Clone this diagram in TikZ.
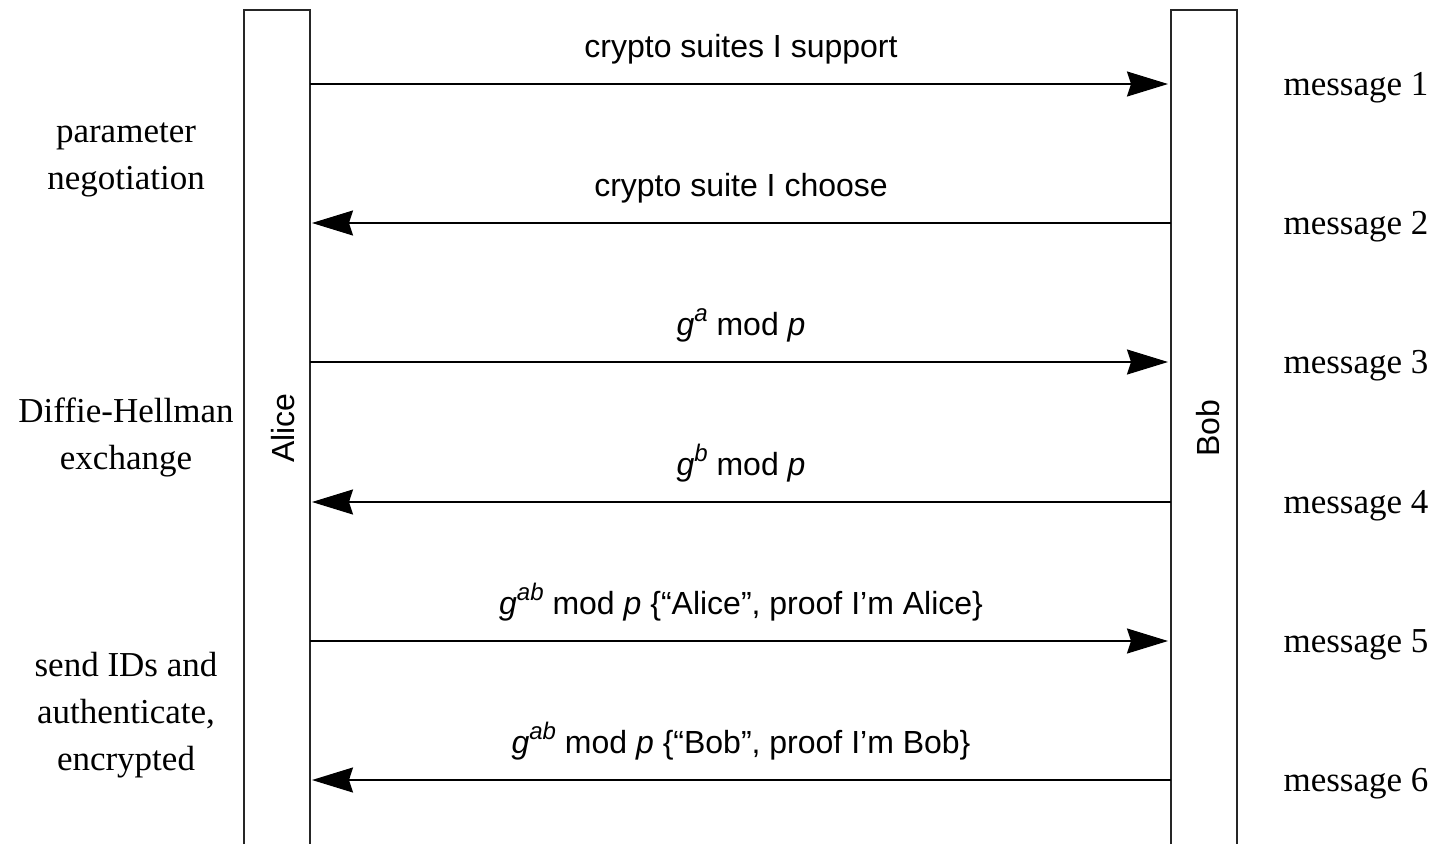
\documentclass[tikz,border=0pt]{standalone}
\usepackage{fontspec}
\setmainfont{Liberation Serif}
\setsansfont{Liberation Sans}
\usetikzlibrary{arrows.meta}
\newcommand{\supit}[1]{\raisebox{0.42em}{\fontsize{24}{24}\selectfont\textit{#1}}}
\begin{document}
\begin{tikzpicture}[x=1pt,y=-1pt,
  lifeline/.style={draw=none,minimum width=66pt,minimum height=834pt,inner sep=0pt,outer sep=0pt},
  boxline/.style={draw=black!85,line width=2.4pt},
  msgarrow/.style={draw=black,line width=1.8pt,-{Stealth[length=41pt,width=25pt,inset=4pt]}},
  msglabel/.style={font=\sffamily\fontsize{32}{38}\selectfont,anchor=base,inner sep=0pt},
  msgnum/.style={font=\rmfamily\fontsize{35}{42}\selectfont,anchor=base,inner sep=0pt},
  phase/.style={font=\rmfamily\fontsize{35}{47}\selectfont,align=center,inner sep=0pt},
  actor/.style={font=\sffamily\fontsize{32}{38}\selectfont,rotate=90,inner sep=0pt}]
\useasboundingbox (0,0) rectangle (1438,844);
% lifelines
\node[lifeline] (alice) at (277,427) {};
\node[lifeline] (bob) at (1204,427) {};
\draw[boxline] (alice.south west) -- (alice.north west) -- (alice.north east) -- (alice.south east);
\draw[boxline] (bob.south west) -- (bob.north west) -- (bob.north east) -- (bob.south east);
\node[actor] (alicename) at (283,428) {Alice};
\node[actor] (bobname) at (1208,428) {Bob};
% message anchors
\foreach \i/\y in {1/84,2/223,3/362,4/502,5/641,6/780}{
  \coordinate (a\i) at (alice.east |- 0,\y);
  \coordinate (b\i) at ([xshift=-3pt]bob.west |- 0,\y);
  \coordinate (bb\i) at (bob.west |- 0,\y);
  \coordinate (aa\i) at ([xshift=2pt]alice.east |- 0,\y);
  \node[msgnum] (m\i) at (1356,\y+11) {message \i};
}
\draw[msgarrow] (a1) -- (b1);
\draw[msgarrow] (bb2) -- (aa2);
\draw[msgarrow] (a3) -- (b3);
\draw[msgarrow] (bb4) -- (aa4);
\draw[msgarrow] (a5) -- (b5);
\draw[msgarrow] (bb6) -- (aa6);
% labels
\node[msglabel] (l1) at (741,57) {crypto suites I support};
\node[msglabel] (l2) at (741,196) {crypto suite I choose};
\node[msglabel] (l3) at (741,335) {\textit{g}\supit{a} mod \textit{p}};
\node[msglabel] (l4) at (741,475) {\textit{g}\supit{b} mod \textit{p}};
\node[msglabel] (l5) at (741,614) {\textit{g}\supit{ab} mod \textit{p} \{“Alice”, proof I’m Alice\}};
\node[msglabel] (l6) at (741,753) {\textit{g}\supit{ab} mod \textit{p} \{“Bob”, proof I’m Bob\}};
% phases
\node[phase] (p1) at (126,160) {parameter\\negotiation};
\node[phase] (p2) at (126,437) {Diffie-Hellman\\exchange};
\node[phase] (p3) at (126,715) {send IDs and\\authenticate,\\encrypted};
\end{tikzpicture}
\end{document}
